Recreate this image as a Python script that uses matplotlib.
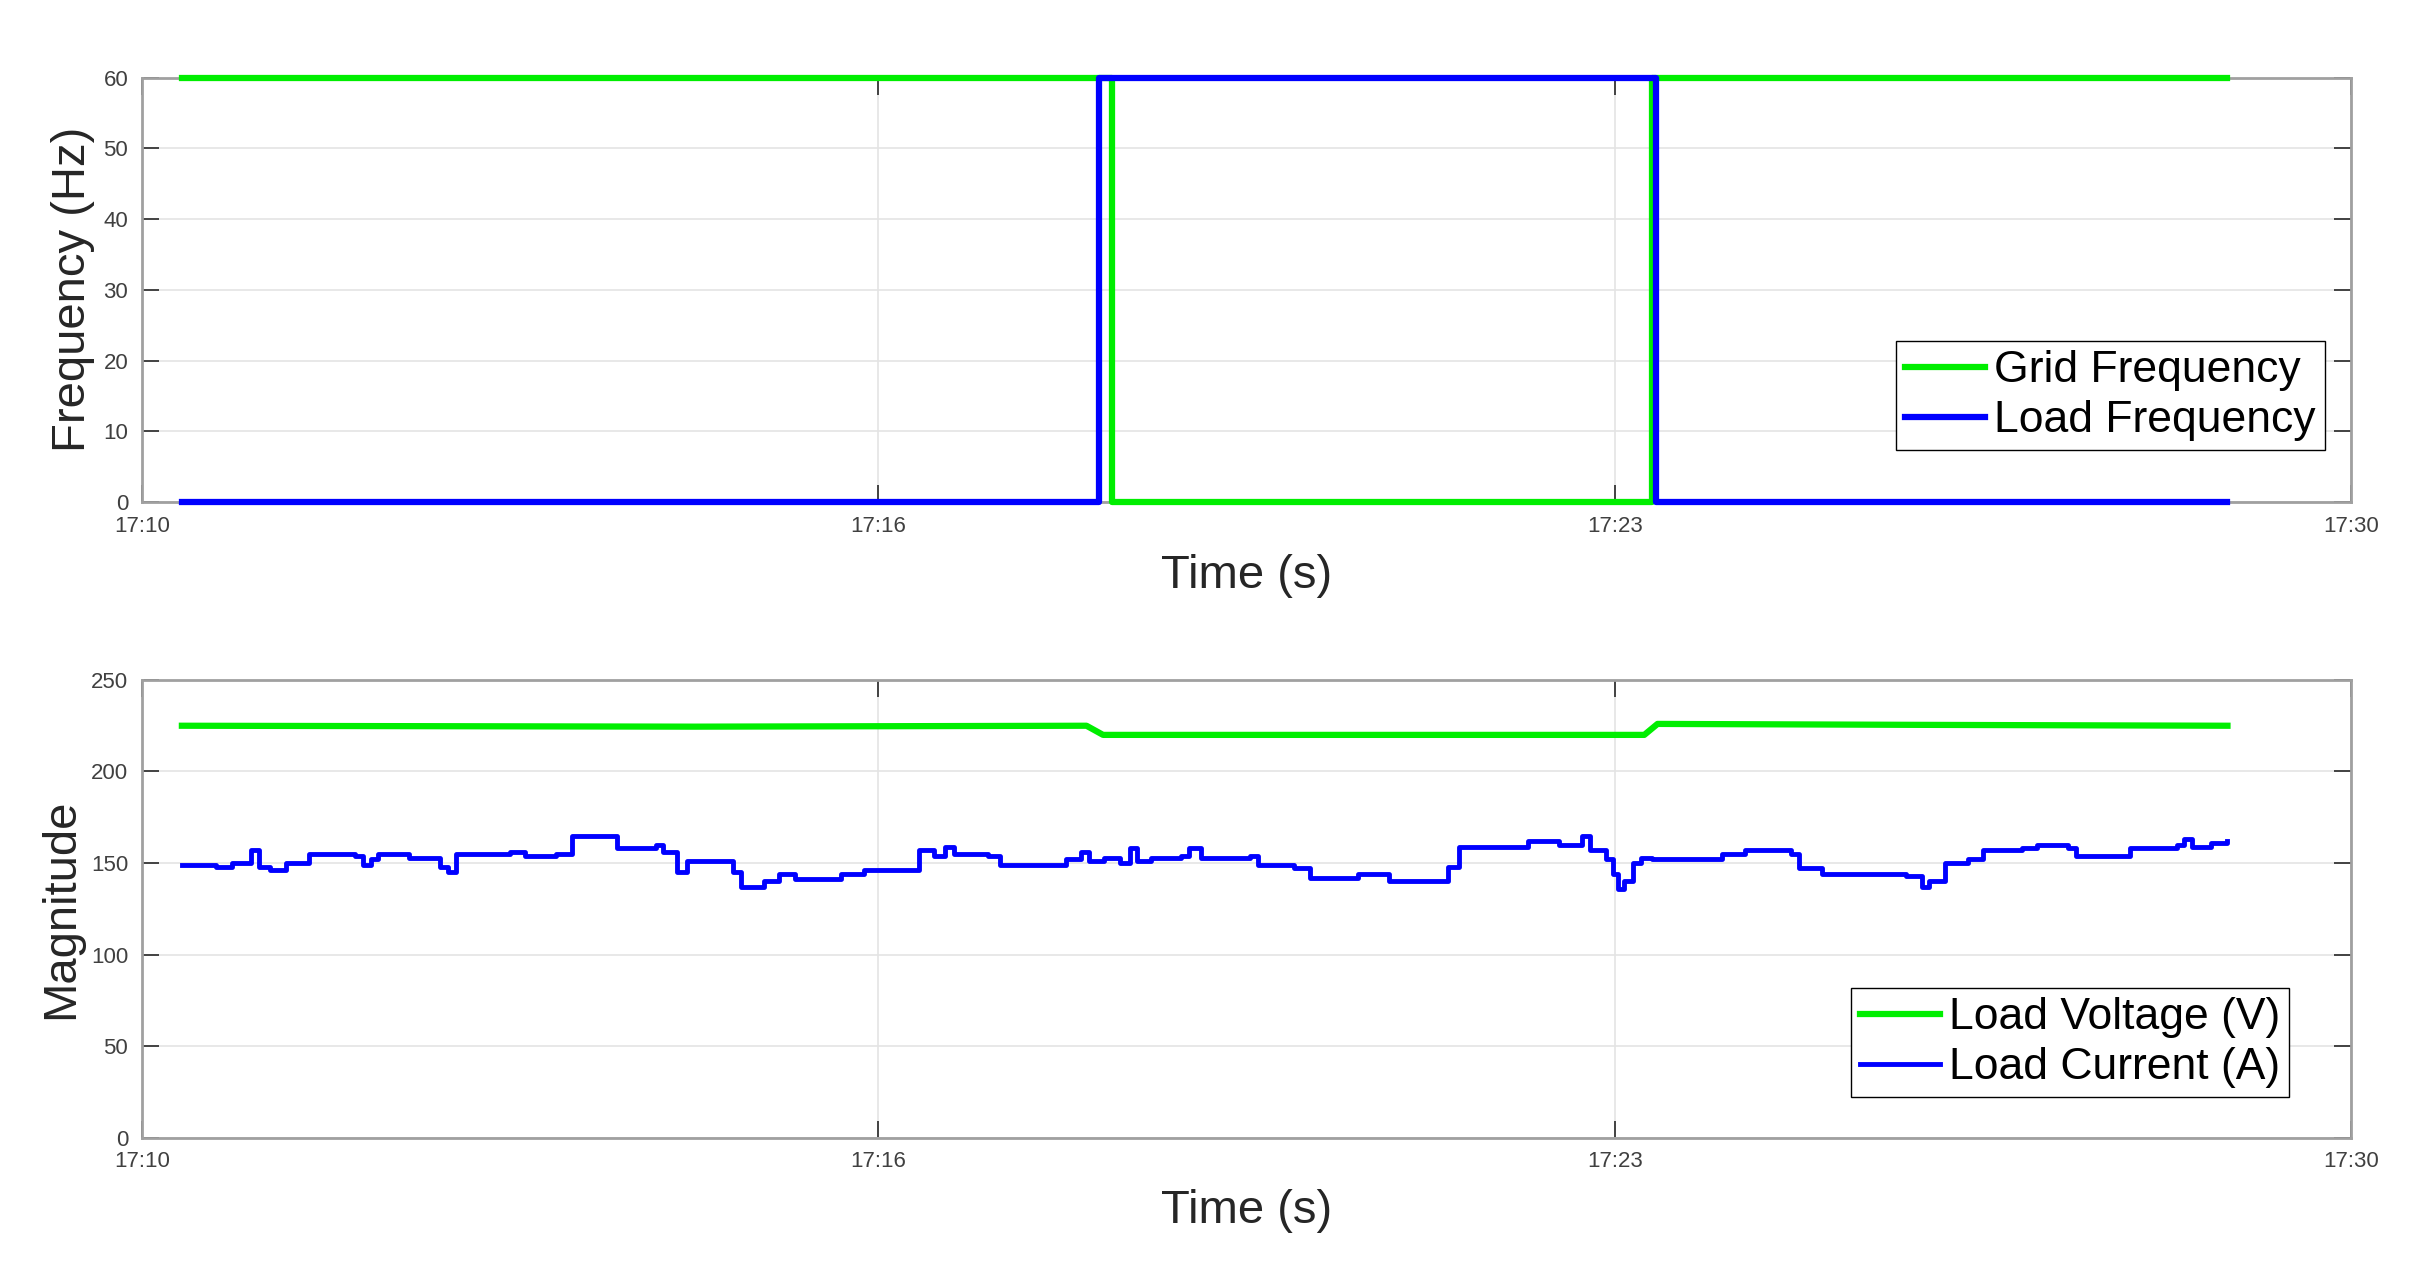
import matplotlib
matplotlib.use("Agg")
import matplotlib.pyplot as plt

# time axis in minutes after 17:10
tick_pos = [0, 20 / 3, 40 / 3, 20]
tick_lab = ["17:10", "17:16", "17:23", "17:30"]

t_start, t_end = 0.36, 18.88

grid_t = [t_start, 8.78, 13.67, t_end]
grid_f = [60, 0, 60, 60]
load_t = [t_start, 8.66, 13.71, t_end]
load_f = [0, 60, 0, 0]

volt_t = [0.36, 5.0, 8.55, 8.70, 13.60, 13.72, 16.0, 18.88]
volt_v = [225, 224.5, 225, 220, 220, 226, 225.5, 225]

cur_t = [0.36, 0.67, 0.81, 0.99, 1.06, 1.16, 1.30, 1.51, 1.93, 2.00, 2.07, 2.14,
         2.42, 2.70, 2.77, 2.84, 3.33, 3.47, 3.75, 3.89, 4.23, 4.30, 4.58, 4.65,
         4.72, 4.84, 4.93, 5.28, 5.35, 5.42, 5.63, 5.77, 5.91, 6.19, 6.33, 6.54,
         6.96, 7.03, 7.17, 7.27, 7.35, 7.66, 7.77, 8.01, 8.36, 8.50, 8.57, 8.71,
         8.85, 8.94, 9.01, 9.13, 9.41, 9.48, 9.59, 10.03, 10.10, 10.43, 10.57,
         10.87, 11.01, 11.29, 11.71, 11.82, 11.92, 12.27, 12.55, 12.83, 12.97,
         13.04, 13.11, 13.25, 13.32, 13.36, 13.42, 13.50, 13.57, 13.67, 13.95,
         14.30, 14.51, 14.93, 15.00, 15.21, 15.97, 16.11, 16.18, 16.32, 16.53,
         16.67, 17.02, 17.16, 17.44, 17.51, 17.86, 18.00, 18.14, 18.42, 18.49,
         18.56, 18.73, 18.88]
cur_v = [149, 148, 150, 157, 148, 146, 150, 155, 154, 149, 152, 155,
         153, 148, 145, 155, 156, 154, 155, 165, 165, 158, 158, 160,
         156, 145, 151, 151, 145, 137, 140, 144, 141, 141, 144, 146,
         146, 157, 154, 159, 155, 154, 149, 149, 152, 156, 151, 153,
         150, 158, 151, 153, 154, 158, 153, 154, 149, 147, 142,
         142, 144, 140, 140, 148, 159, 159, 162, 160, 160,
         165, 157, 152, 144, 136, 140, 150, 153, 152, 152,
         155, 157, 155, 147, 144, 143, 137, 140, 150, 152,
         157, 158, 160, 158, 154, 154, 158, 158, 160, 163,
         159, 161, 162]

plt.rcParams['font.family'] = ['Liberation Sans', 'DejaVu Sans']

GREEN = '#00ee00'
BLUE = '#0000ff'

fig = plt.figure(figsize=(24.09, 12.71), dpi=100)
ax1 = fig.add_axes([0.059, 0.605, 0.917, 0.334])
ax2 = fig.add_axes([0.059, 0.105, 0.917, 0.360])


def style(ax, ylim, yticks, ylabel):
    ax.set_xlim(0, 20)
    ax.set_ylim(*ylim)
    ax.set_yticks(yticks)
    ax.set_xticks(tick_pos)
    ax.set_xticklabels(tick_lab)
    ax.grid(True, color='#e4e4e4', linewidth=1.2)
    ax.set_axisbelow(True)
    ax.tick_params(direction='in', length=12, width=1.2, colors='#262626',
                   labelsize=16, labelcolor='#404040', top=True, right=True, pad=10)
    for s in ax.spines.values():
        s.set_color('#a0a0a0')
        s.set_linewidth(2)
    ax.set_xlabel("Time (s)", fontsize=34, color='#262626', labelpad=12)
    ax.set_ylabel(ylabel, fontsize=34, color='#262626', labelpad=6)


ax1.plot(grid_t, grid_f, drawstyle='steps-post', color=GREEN, lw=4.5,
         label='Grid Frequency', clip_on=False, zorder=5)
ax1.plot(load_t, load_f, drawstyle='steps-post', color=BLUE, lw=4.5,
         label='Load Frequency', clip_on=False, zorder=6)
style(ax1, (0, 60), range(0, 61, 10), "Frequency (Hz)")
ax1.legend(loc='lower right', bbox_to_anchor=(0.998, 0.07), fontsize=32,
           frameon=True, fancybox=False, edgecolor='black', framealpha=1,
           handlelength=1.8, handletextpad=0.2, borderpad=0.2, labelspacing=0.2)

ax2.plot(volt_t, volt_v, color=GREEN, lw=4.5, label='Load Voltage (V)', zorder=5)
ax2.plot(cur_t, cur_v, drawstyle='steps-post', color=BLUE, lw=3.5,
         label='Load Current (A)', zorder=6)
style(ax2, (0, 250), range(0, 251, 50), "Magnitude")
ax2.legend(loc='lower right', bbox_to_anchor=(0.982, 0.04), fontsize=32,
           frameon=True, fancybox=False, edgecolor='black', framealpha=1,
           handlelength=1.8, handletextpad=0.2, borderpad=0.2, labelspacing=0.2)

fig.savefig("out.png", dpi=100)
